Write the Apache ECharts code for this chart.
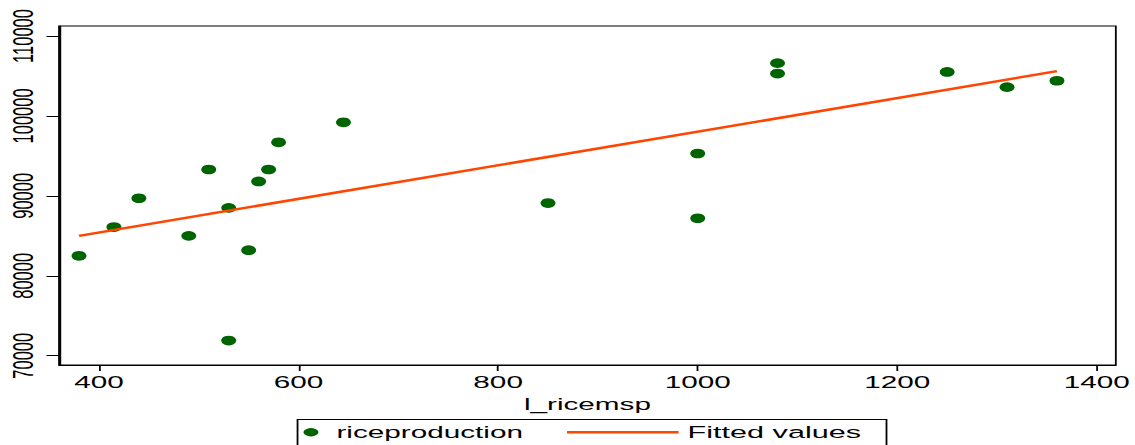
<!DOCTYPE html>
<html>
<head>
<meta charset="utf-8">
<script src="https://cdn.jsdelivr.net/npm/echarts@6/dist/echarts.min.js"></script>
<style>
html,body{margin:0;padding:0;background:#fff;overflow:hidden;}
#c{width:630.56px;height:445px;transform:scaleX(1.8);transform-origin:0 0;}
</style>
</head>
<body>
<div id="c"></div>
<script>
// Data
const riceMsp = [380, 415, 440, 490, 510, 530, 530, 550, 560, 570, 580, 645, 850, 1000, 1000, 1080, 1080, 1250, 1310, 1360];
const riceProduction = [82500, 86100, 89700, 85000, 93300, 88500, 71900, 83200, 91800, 93300, 96700, 99200, 89100, 95300, 87200, 106600, 105300, 105500, 103600, 104400];
const fittedX = [380, 1360];
const fittedY = [85000, 105600];
const xTicks = [400, 600, 800, 1000, 1200, 1400];
const yTicks = [70000, 80000, 90000, 100000, 110000];
const seriesNames = ['riceproduction', 'Fitted values'];
const xName = 'l_ricemsp';

const FONT = 'Liberation Sans';
const chart = echarts.init(document.getElementById('c'), null, {renderer: 'svg'});
const labelStyle = {fontFamily: FONT, fontSize: 16.5, color: '#000'};
const plain = v => String(v);

chart.setOption({
  animation: false,
  backgroundColor: '#fff',
  grid: {left: 32.8, right: 11.1, top: 26, bottom: 80, show: true, borderColor: '#000', borderWidth: 1, containLabel: false},
  xAxis: {
    type: 'value', min: 360, max: 1419,
    name: xName, nameLocation: 'middle', nameGap: 23,
    nameTextStyle: labelStyle,
    axisLine: {show: true, lineStyle: {color: '#000', width: 1}},
    axisTick: {show: true, length: 6, lineStyle: {color: '#000', width: 1}, customValues: xTicks},
    axisLabel: Object.assign({margin: 9, customValues: xTicks, formatter: plain}, labelStyle),
    splitLine: {show: false}
  },
  yAxis: {
    type: 'value', min: 68840, max: 111250,
    axisLine: {show: true, lineStyle: {color: '#000', width: 1}},
    axisTick: {show: true, length: 7, lineStyle: {color: '#000', width: 1}, customValues: yTicks},
    axisLabel: Object.assign({margin: 12, rotate: 90, customValues: yTicks, formatter: plain}, labelStyle),
    splitLine: {show: false}
  },
  legend: [
    {data: [seriesNames[0]], left: 168.6, top: 423.75, padding: 0, itemWidth: 8.3, itemHeight: 9.7, symbolKeepAspect: false,
     itemStyle: {opacity: 1},
     textStyle: Object.assign({padding: [0, 0, 0, 5]}, labelStyle)},
    {data: [{name: seriesNames[1], icon: 'rect'}], left: 315, top: 423.75, padding: 0, itemWidth: 62, itemHeight: 2.5,
     itemStyle: {color: '#FF4500'},
     textStyle: Object.assign({}, labelStyle, {fontSize: 17})}
  ],
  graphic: [
    {type: 'rect', left: 162.8, top: 417, shape: {width: 327.2, height: 40}, style: {fill: 'none', stroke: '#000', lineWidth: 1}, silent: true}
  ],
  series: [
    {name: seriesNames[0], type: 'scatter', symbol: 'circle', symbolSize: [8.3, 9.7],
     itemStyle: {color: '#006400', opacity: 1},
     data: riceMsp.map((x, i) => [x, riceProduction[i]])},
    {name: seriesNames[1], type: 'line', showSymbol: false, symbol: 'none',
     lineStyle: {color: '#FF4500', width: 2.5}, itemStyle: {color: '#FF4500'},
     data: fittedX.map((x, i) => [x, fittedY[i]])}
  ]
});
</script>
</body>
</html>
